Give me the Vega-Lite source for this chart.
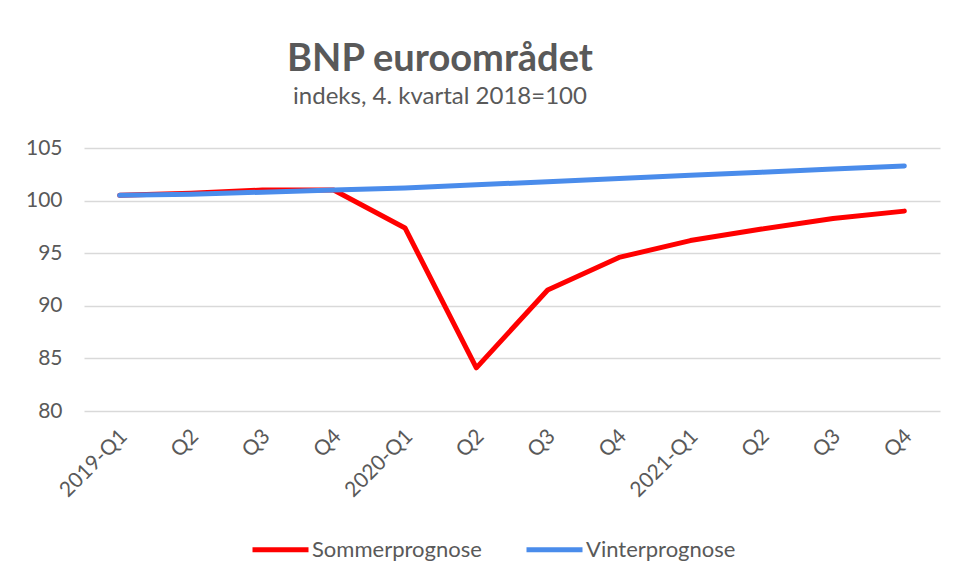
{
  "$schema": "https://vega.github.io/schema/vega-lite/v6.json",
  "autosize": "none",
  "width": 856,
  "height": 263,
  "padding": {"left": 84, "top": 148, "right": 17, "bottom": 170},
  "background": "white",
  "title": {
    "text": "BNP euroområdet",
    "subtitle": "indeks, 4. kvartal 2018=100",
    "anchor": "middle",
    "frame": "group",
    "dx": -72,
    "offset": 28,
    "font": "Lato",
    "fontSize": 38,
    "fontWeight": "bold",
    "color": "#595959",
    "subtitleFont": "Lato",
    "subtitleFontSize": 24,
    "subtitleColor": "#595959",
    "subtitlePadding": 6
  },
  "data": {
    "values": [
      {"kvartal": "2019-Q1", "serie": "Sommerprognose", "verdi": 100.5},
      {"kvartal": "2019-Q2", "serie": "Sommerprognose", "verdi": 100.7},
      {"kvartal": "2019-Q3", "serie": "Sommerprognose", "verdi": 101.0},
      {"kvartal": "2019-Q4", "serie": "Sommerprognose", "verdi": 101.0},
      {"kvartal": "2020-Q1", "serie": "Sommerprognose", "verdi": 97.4},
      {"kvartal": "2020-Q2", "serie": "Sommerprognose", "verdi": 84.1},
      {"kvartal": "2020-Q3", "serie": "Sommerprognose", "verdi": 91.5},
      {"kvartal": "2020-Q4", "serie": "Sommerprognose", "verdi": 94.6},
      {"kvartal": "2021-Q1", "serie": "Sommerprognose", "verdi": 96.2},
      {"kvartal": "2021-Q2", "serie": "Sommerprognose", "verdi": 97.3},
      {"kvartal": "2021-Q3", "serie": "Sommerprognose", "verdi": 98.3},
      {"kvartal": "2021-Q4", "serie": "Sommerprognose", "verdi": 99.0},
      {"kvartal": "2019-Q1", "serie": "Vinterprognose", "verdi": 100.5},
      {"kvartal": "2019-Q2", "serie": "Vinterprognose", "verdi": 100.6},
      {"kvartal": "2019-Q3", "serie": "Vinterprognose", "verdi": 100.8},
      {"kvartal": "2019-Q4", "serie": "Vinterprognose", "verdi": 101.0},
      {"kvartal": "2020-Q1", "serie": "Vinterprognose", "verdi": 101.2},
      {"kvartal": "2020-Q2", "serie": "Vinterprognose", "verdi": 101.5},
      {"kvartal": "2020-Q3", "serie": "Vinterprognose", "verdi": 101.8},
      {"kvartal": "2020-Q4", "serie": "Vinterprognose", "verdi": 102.1},
      {"kvartal": "2021-Q1", "serie": "Vinterprognose", "verdi": 102.4},
      {"kvartal": "2021-Q2", "serie": "Vinterprognose", "verdi": 102.7},
      {"kvartal": "2021-Q3", "serie": "Vinterprognose", "verdi": 103.0},
      {"kvartal": "2021-Q4", "serie": "Vinterprognose", "verdi": 103.3}
    ]
  },
  "mark": {"type": "line", "strokeWidth": 5, "strokeCap": "round", "strokeJoin": "round"},
  "encoding": {
    "x": {
      "field": "kvartal",
      "type": "ordinal",
      "sort": null,
      "scale": {"type": "point", "padding": 0.5},
      "axis": {
        "title": null,
        "labelAngle": -45,
        "labelAlign": "right",
        "labelBaseline": "middle",
        "labelPadding": 22,
        "labelOffset": 4,
        "labelFont": "Lato",
        "labelFontSize": 21,
        "labelColor": "#595959",
        "ticks": false,
        "domain": false,
        "grid": false,
        "labelExpr": "substring(datum.value, 5) == 'Q1' ? datum.value : substring(datum.value, 5)"
      }
    },
    "y": {
      "field": "verdi",
      "type": "quantitative",
      "scale": {"domain": [80, 105], "nice": false, "zero": false},
      "axis": {
        "title": null,
        "values": [80, 85, 90, 95, 100, 105],
        "labelFont": "Lato",
        "labelFontSize": 21,
        "labelColor": "#595959",
        "labelPadding": 22,
        "ticks": false,
        "domain": false,
        "grid": true,
        "gridColor": "#D9D9D9",
        "gridWidth": 1.5
      }
    },
    "color": {
      "field": "serie",
      "type": "nominal",
      "scale": {"domain": ["Sommerprognose", "Vinterprognose"], "range": ["#FF0000", "#4A8CEB"]},
      "legend": {
        "title": null,
        "orient": "none",
        "direction": "horizontal",
        "legendX": 166,
        "legendY": 371,
        "symbolType": "stroke",
        "symbolSize": 3136,
        "symbolStrokeWidth": 5,
        "labelFont": "Lato",
        "labelFontSize": 22,
        "labelColor": "#595959",
        "labelOffset": 1,
        "labelLimit": 400,
        "columnPadding": 34
      }
    }
  },
  "config": {"view": {"stroke": null}}
}
